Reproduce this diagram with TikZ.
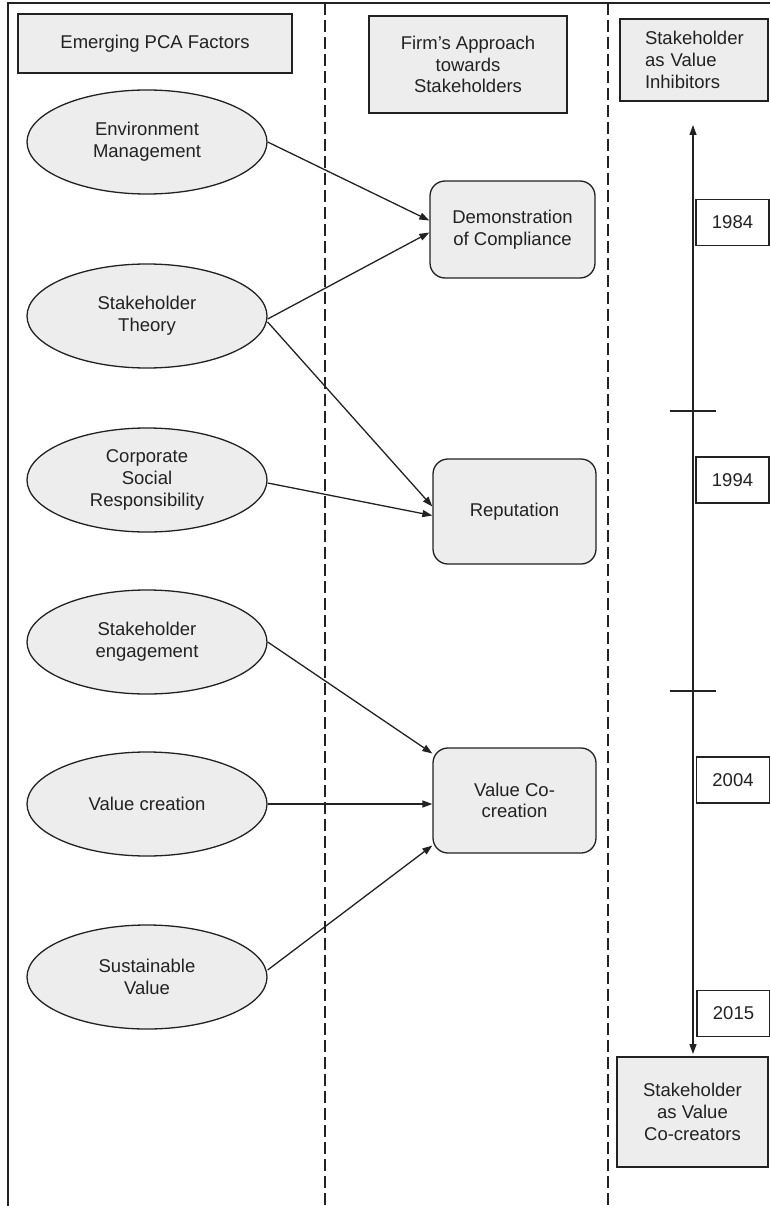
\documentclass[tikz,border=0pt]{standalone}
\usepackage{fontspec}
\setmainfont{Liberation Sans}
\usetikzlibrary{arrows.meta,calc,shapes.geometric}
\definecolor{ink}{HTML}{222222}
\definecolor{shade}{HTML}{EDEDED}
\begin{document}
\begin{tikzpicture}[x=1pt,y=-1pt,
  font=\fontsize{18.5}{21.7}\selectfont,
  line/.style={draw=ink, line width=1.3pt},
  header/.style={line, fill=shade, rectangle, inner sep=0pt, align=center, text=ink},
  factor/.style={line, fill=shade, ellipse, minimum width=240pt, minimum height=104pt, inner sep=0pt, align=center, text=ink},
  approach/.style={line, fill=shade, rectangle, rounded corners=15pt, inner sep=0pt, align=center, text=ink},
  year/.style={line, fill=white, rectangle, minimum width=73pt, minimum height=46pt, inner sep=0pt, text=ink},
  link/.style={draw=ink, line width=1.3pt, -{Triangle[length=10pt,width=7pt]}},
  divider/.style={draw=ink, line width=1.3pt, dash pattern=on 12pt off 5pt}]
\useasboundingbox (0,0) rectangle (770,1206);

% frame and column dividers
\draw[line] (8,1206) -- (8,3) -- (770,3);
\draw[divider] (325,3) -- (325,1206);
\draw[divider] (608,3) -- (608,1206);

% column headers
\node[header, minimum width=274pt, minimum height=59pt] (h1) at (155,43.5) {Emerging PCA Factors};
\node[header, minimum width=198pt, minimum height=97pt] (h2) at (468,64.5) {Firm’s Approach\\towards\\Stakeholders};
\node[header, minimum width=148pt, minimum height=82pt, text width=98pt, inner xsep=25pt, align=left] (h3) at (694,60) {Stakeholder\\as Value\\Inhibitors};

% emerging factors
\node[factor] (em)  at (147,142) {Environment\\Management};
\node[factor] (st)  at (147,316) {Stakeholder\\Theory};
\node[factor] (csr) at (147,480) {Corporate\\Social\\Responsibility};
\node[factor] (se)  at (147,642) {Stakeholder\\engagement};
\node[factor] (vc)  at (147,804) {Value creation};
\node[factor] (sv)  at (147,977) {Sustainable\\Value};

% firm approaches
\node[approach, minimum width=165pt, minimum height=97pt]  (dem) at (512.5,229.5) {Demonstration\\of Compliance};
\node[approach, minimum width=163pt, minimum height=105pt] (rep) at (514.5,511.5) {Reputation};
\node[approach, minimum width=163pt, minimum height=105pt] (vco) at (514.5,800.5) {Value Co-\\creation};

% connectors
\draw[link] (em.east) -- ($(dem.west)+(0,-9)$);
\draw[link] ($(st.east)+(0,3)$) -- ($(dem.west)+(0,3)$);
\draw[link] ($(st.east)+(0,6)$) -- ($(rep.west)+(0,-5)$);
\draw[link] ($(csr.east)+(0,3)$) -- ($(rep.west)+(0,4)$);
\draw[link] (se.east) -- ($(vco.west)+(0,-47)$);
\draw[link] (vc.east) -- (vco.west |- vc.east);
\draw[link] ($(sv.east)+(0,-7)$) -- ($(vco.west)+(0,45)$);

% timeline
\coordinate (tltop) at (693,125);
\coordinate (tlbot) at (693,1054);
\draw[line, {Triangle[length=10pt,width=7pt]}-{Triangle[length=10pt,width=7pt]}] (tltop) -- (tlbot);
\coordinate (ta1) at (670,411);
\coordinate (tb1) at (716,411);
\coordinate (ta2) at (670,691);
\coordinate (tb2) at (716,691);
\draw[line] (ta1) -- (tb1);
\draw[line] (ta2) -- (tb2);

\node[year] (y1984) at (732.5,222.5) {1984};
\node[year] (y1994) at (732.5,480) {1994};
\node[year] (y2004) at (733,780) {2004};
\node[year] (y2015) at (733.5,1013.5) {2015};

\node[header, minimum width=151pt, minimum height=110pt] (h4) at (692.5,1112) {Stakeholder\\as Value\\Co-creators};
\end{tikzpicture}
\end{document}
